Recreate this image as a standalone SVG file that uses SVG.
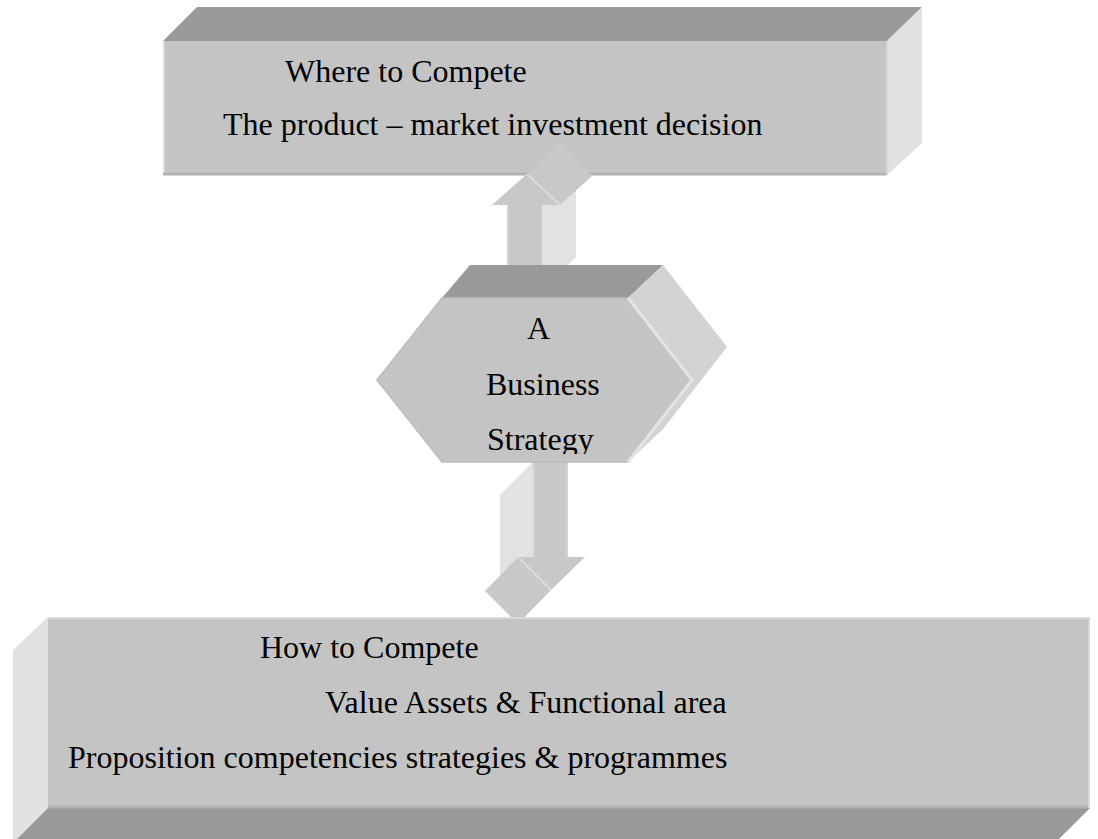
<svg xmlns="http://www.w3.org/2000/svg" width="1098" height="839" viewBox="0 0 1098 839">
<defs>
<style>
.front{fill:#c4c4c4;}
.top{fill:#999999;}
.side{fill:#e1e1e1;}
.hexside{fill:#d3d3d3;}
.arrow{fill:#c8c8c8;}
.aside{fill:#e2e2e2;}
.hl{stroke:#dcdcdc;stroke-width:2;fill:none;}
.dk{stroke:#b2b2b2;stroke-width:3;fill:none;}
.t{font-family:"Liberation Serif","Times New Roman",serif;font-size:32px;fill:#000;}
</style>
<clipPath id="hexclip"><rect x="370" y="260" width="370" height="194"/></clipPath>
</defs>
<rect width="1098" height="839" fill="#ffffff"/>

<g id="where-to-compete">
<polygon class="top" points="163,41 197,7 922,7 887,41"/>
<polygon class="side" points="887,41 922,7 922,143 887,175"/>
<rect class="front" x="163" y="41" width="724" height="134"/>
<line class="hl" x1="164" y1="41" x2="164" y2="175"/>
<line class="dk" x1="163" y1="174" x2="887" y2="174"/>
<line x1="887" y1="41" x2="887" y2="175" stroke="#d6d6d6" stroke-width="2"/>
<text class="t" x="285" y="82">Where to Compete</text>
<text class="t" x="223" y="135">The product – market investment decision</text>
</g>

<g id="connectors">
<g id="arrow-up">
<polygon class="aside" points="542,205 576,175 576,257 568,265 542,265"/>
<polygon class="arrow" points="508,265 508,205 492,205 527,174 560,205 542,205 542,265"/>
<polygon class="arrow" points="527,174 560,142 592,176 560,205"/>
<line class="hl" x1="527" y1="174" x2="560" y2="205"/>
<line x1="508" y1="205" x2="508" y2="265" stroke="#d2d2d2" stroke-width="2"/>
</g>
<g id="arrow-down">
<polygon class="aside" points="533,462 500,495 500,575 533,557"/>
<polygon class="arrow" points="533,462 568,462 568,557 585,557 551,590 518,557 533,557"/>
<polygon class="arrow" points="518,557 485,591 518,624 551,590"/>
<line class="hl" x1="518" y1="557" x2="551" y2="590"/>
<line x1="534" y1="462" x2="534" y2="557" stroke="#d2d2d2" stroke-width="2"/>
<line x1="567" y1="462" x2="567" y2="557" stroke="#d2d2d2" stroke-width="2"/>
</g>
</g>

<g id="business-strategy">
<polygon class="top" points="442,298 470,265 663,265 628,298"/>
<polygon class="hexside" points="628,298 663,265 727,347 663,429 628,462 692,380"/>
<polygon class="front" points="442,298 628,298 692,380 628,462 442,462 377,380" stroke="#bcbcbc" stroke-width="1.5"/>
<polyline points="628,298 692,380 628,462" stroke="#e4e4e4" stroke-width="3" fill="none"/>
<g clip-path="url(#hexclip)">
<text class="t" x="527" y="339">A</text>
<text class="t" x="486" y="395">Business</text>
<text class="t" x="487" y="450">Strategy</text>
</g>
</g>

<g id="how-to-compete">
<polygon class="side" points="13,650 48,617 48,808 13,843"/>
<polygon class="top" points="48,808 1090,808 1055,843 13,843"/>
<rect class="front" x="48" y="617" width="1042" height="191"/>
<line x1="48" y1="618" x2="1090" y2="618" stroke="#d8d8d8" stroke-width="2"/>
<line class="dk" x1="48" y1="807" x2="1090" y2="807"/>
<line x1="1089" y1="617" x2="1089" y2="808" stroke="#d8d8d8" stroke-width="2"/>
<text class="t" x="260" y="658">How to Compete</text>
<text class="t" x="325" y="713">Value Assets &amp; Functional area</text>
<text class="t" x="68" y="768">Proposition competencies strategies &amp; programmes</text>
</g>
</svg>
